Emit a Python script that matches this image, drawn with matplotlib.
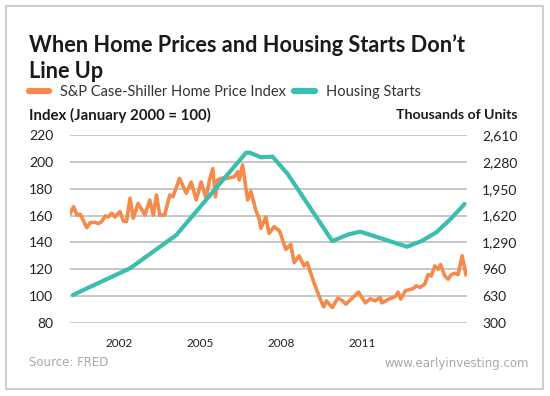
import matplotlib.pyplot as plt
from matplotlib.lines import Line2D
from matplotlib.patches import Rectangle
from matplotlib.ticker import FuncFormatter

ORANGE = "#F58A4B"
TEAL = "#3ABEAD"

# S&P Case-Shiller index (January 2000 = 100)
hpi_year = [2000.21, 2000.33, 2000.46, 2000.58, 2000.82, 2000.95, 2001.13, 2001.25,
            2001.37, 2001.50, 2001.62, 2001.74, 2001.86, 2002.05, 2002.17, 2002.29,
            2002.42, 2002.54, 2002.72, 2002.97, 2003.15, 2003.28, 2003.40, 2003.52,
            2003.70, 2003.89, 2004.01, 2004.25, 2004.50, 2004.68, 2004.87, 2005.05,
            2005.23, 2005.36, 2005.48, 2005.58, 2005.66, 2005.85, 2006.03, 2006.28,
            2006.40, 2006.46, 2006.58, 2006.77, 2006.89, 2007.07, 2007.19, 2007.26,
            2007.44, 2007.56, 2007.75, 2007.95, 2008.18, 2008.36, 2008.49, 2008.67,
            2008.85, 2008.97, 2009.22, 2009.45, 2009.58, 2009.68, 2009.90, 2010.10,
            2010.25, 2010.40, 2010.87, 2011.12, 2011.30, 2011.48, 2011.67, 2011.73,
            2012.00, 2012.25, 2012.33, 2012.43, 2012.60, 2012.90, 2013.00, 2013.14,
            2013.32, 2013.44, 2013.56, 2013.69, 2013.81, 2013.90, 2014.06, 2014.18,
            2014.30, 2014.43, 2014.55, 2014.70, 2014.84]
hpi_value = [161.7, 166.6, 160.4, 161.0, 151.0, 154.7, 155.0, 154.0,
             155.5, 159.7, 159.0, 161.7, 159.0, 163.0, 156.0, 155.5,
             173.0, 158.0, 169.0, 160.4, 171.5, 160.4, 175.3, 160.4,
             160.4, 175.3, 174.0, 187.7, 176.6, 185.0, 171.6, 185.0,
             173.0, 186.5, 195.0, 174.0, 186.5, 188.0, 187.7, 189.0,
             192.7, 186.5, 197.7, 171.6, 178.0, 164.0, 158.0, 150.5,
             159.0, 146.8, 151.8, 148.4, 134.8, 138.5, 125.0, 130.0,
             122.5, 125.0, 110.0, 98.0, 92.0, 96.5, 91.5, 98.5,
             97.0, 94.0, 103.0, 95.0, 98.0, 96.5, 99.0, 95.0,
             97.8, 100.0, 103.0, 97.8, 104.0, 105.7, 107.7, 106.5,
             109.0, 116.0, 115.0, 122.5, 120.0, 123.5, 115.0, 112.6,
             116.0, 117.0, 116.0, 130.0, 116.0]

# Housing starts, thousands of units
hs_year = [2000.31, 2002.42, 2004.13, 2006.71, 2006.85, 2007.26, 2007.69, 2008.25,
           2009.90, 2010.50, 2010.93, 2011.40, 2012.66, 2013.20, 2013.76, 2014.30, 2014.79]
hs_value = [645, 972, 1381, 2392, 2392, 2336, 2344, 2131,
            1307, 1389, 1422, 1373, 1237, 1307, 1417, 1587, 1762]

left_ticks = [80, 100, 120, 140, 160, 180, 200, 220]
right_ticks = [300, 630, 960, 1290, 1620, 1950, 2280, 2610]
x_ticks = [2002, 2005, 2008, 2011]

plt.rcParams["font.family"] = ["Lato", "DejaVu Sans"]

fig = plt.figure(figsize=(5.5, 3.96), dpi=100)
W, H = 550, 396

# outer frame
fig.patches.append(Rectangle((6 / W, 7 / H), 537 / W, 383 / H, transform=fig.transFigure,
                             fill=False, edgecolor="#cfcfcf", linewidth=1.5))

ax = fig.add_axes([70 / W, 1 - 323 / H, 397 / W, 188 / H])
ax2 = ax.twinx()

ax.plot(hpi_year, hpi_value, color=ORANGE, linewidth=2.6, solid_joinstyle="round")
ax2.plot(hs_year, hs_value, color=TEAL, linewidth=3.0, solid_capstyle="round")

ax.set_xlim(2000.2, 2014.88)
ax.set_ylim(80, 220)
ax2.set_ylim(300, 2610)
ax.set_yticks(left_ticks)
ax2.set_yticks(right_ticks)
ax2.yaxis.set_major_formatter(FuncFormatter(lambda v, p: f"{v:,.0f}"))
ax.set_xticks(x_ticks)

ax.grid(True, axis="y", color="#bdbdbd", linewidth=1.2)
ax.set_axisbelow(True)
for a in (ax, ax2):
    for s in a.spines.values():
        s.set_visible(False)
    a.tick_params(length=0, colors="#222222")
ax.tick_params(axis="y", labelsize=10, pad=12)
ax2.tick_params(axis="y", labelsize=10, pad=11)
ax.tick_params(axis="x", labelsize=8.5, pad=11)

fig.text(29 / W, 1 - 45 / H, "When Home Prices and Housing Starts Don\u2019t",
         fontsize=15.7, fontweight="bold", color="#1a1a1a", va="center")
fig.text(29 / W, 1 - 71 / H, "Line Up",
         fontsize=15.7, fontweight="bold", color="#1a1a1a", va="center")

handles = [Line2D([], [], color=ORANGE, linewidth=4.5, solid_capstyle="round"),
           Line2D([], [], color=TEAL, linewidth=4.5, solid_capstyle="round")]
fig.legend(handles, ["S&P Case-Shiller Home Price Index", "Housing Starts"],
           loc="center left", bbox_to_anchor=(29 / W, 1 - 92 / H), ncol=2,
           frameon=False, fontsize=10.5, handlelength=1.4, handletextpad=0.75,
           columnspacing=0.55, borderaxespad=0, borderpad=0, labelcolor="#333333")

fig.text(29 / W, 1 - 115 / H, "Index (January 2000 = 100)", fontsize=10.8,
         fontweight="bold", color="#1a1a1a", va="center")
fig.text(517 / W, 1 - 115 / H, "Thousands of Units", fontsize=10.2,
         fontweight="bold", color="#1a1a1a", va="center", ha="right")

fig.text(29 / W, 1 - 363 / H, "Source: FRED", fontsize=8.5, color="#a8a8a8",
         va="center", family="DejaVu Sans")
fig.text(529 / W, 1 - 363 / H, "www.earlyinvesting.com", fontsize=8.5, color="#a8a8a8",
         va="center", ha="right", family="DejaVu Sans")

fig.savefig("out.png", dpi=100)
